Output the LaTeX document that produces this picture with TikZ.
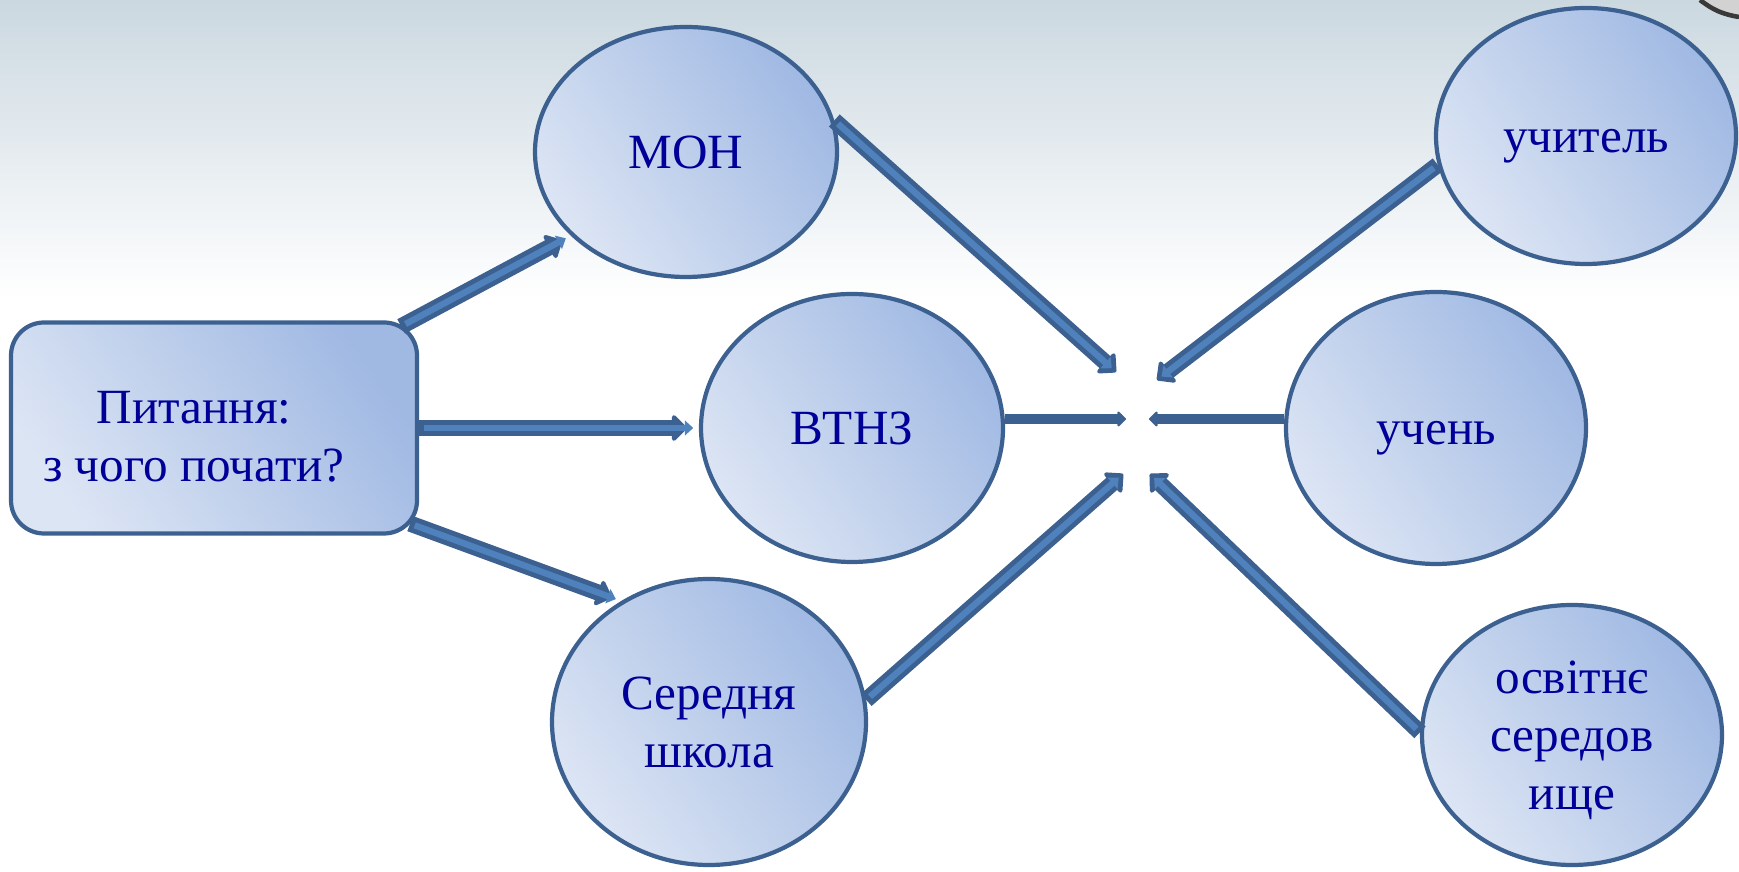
\documentclass[tikz,border=0pt]{standalone}
\usepackage{fontspec}
\setmainfont{Liberation Serif}
\usetikzlibrary{positioning, shapes.geometric, arrows.meta, calc}
\definecolor{shapeedge}{HTML}{3C6190}
\definecolor{shapelight}{HTML}{DCE5F4}
\definecolor{shapedark}{HTML}{A0B9E3}
\definecolor{arrowedge}{HTML}{3C6190}
\definecolor{arrowfill}{HTML}{4F81BD}
\definecolor{labelblue}{HTML}{000099}
\definecolor{bgtop}{HTML}{CBD8E0}
\newcommand{\tstrut}{\rule[-0.22em]{0pt}{1.11em}}
\tikzset{
        actor/.style={
            ellipse, draw=shapeedge, line width=1.2pt, inner sep=0pt,
            top color=shapedark, bottom color=shapelight, shading angle=-55,
            text=labelblue, font=\fontsize{14}{16.5}\selectfont, align=center
        },
        question-box/.style={
            rectangle, rounded corners=3.3mm, draw=shapeedge, line width=1.2pt,
            top color=shapedark, bottom color=shapelight, shading angle=-55,
            minimum width=40.6mm, minimum height=21.1mm
        },
        block-arrow/.style={
            draw=arrowedge, line width=4.6pt, -{Triangle[length=4.5pt, width=8.6pt, round]},
            postaction={draw=arrowfill, line width=1.8pt, shorten <=1.4pt, shorten >=1.6pt,
                        -{Triangle[length=2.4pt, width=4.2pt]}}
        },
        solid-arrow/.style={
            draw=arrowedge, line width=2.6pt, -{Triangle[length=2.6pt, width=5pt, round]}
        },
}
\begin{document}
\begin{tikzpicture}[x=0.1mm, y=-0.1mm]
        \useasboundingbox (0,0) rectangle (1739,872);

        % BACKGROUND
        \fill[top color=bgtop, bottom color=white] (0,0) rectangle (1739,300);
        \fill[gray!35] (1700,0) to[bend right=14] (1739,17) -- (1739,0) -- cycle;
        \draw[line width=1.3pt, gray!45!black] (1700,0) to[bend right=14] (1739,17);

        % DRAW NODES (left side, middle column, right column)
        \node[question-box,
              label={[text=labelblue, font=\fontsize{14}{16.5}\selectfont, align=center,
                      xshift=-2mm, yshift=-0.8mm]center:{\tstrut Питання:\\\tstrut з чого почати?}}]
                                  (question)    at (214,428)  {};
        \node[actor, minimum width=30.2mm, minimum height=25mm]   (mon)         at (686,152)  {\tstrut МОН};
        \node[actor, minimum width=30.2mm, minimum height=26.8mm] (vtnz)        at (852,428)  {\tstrut ВТНЗ};
        \node[actor, minimum width=31.4mm, minimum height=28.6mm] (school)      at (709,722)  {\tstrut Середня\\\tstrut школа};
        \node[actor, minimum width=30mm,   minimum height=25.6mm] (teacher)     at (1586,136) {\tstrut учитель};
        \node[actor, minimum width=30mm,   minimum height=27.2mm] (pupil)       at (1436,428) {\tstrut учень};
        \node[actor, minimum width=30mm,   minimum height=26mm]   (environment) at (1572,735) {\tstrut освітнє\\\tstrut середов\\\tstrut ище};

        % ARROW ENDS IN THE MIDDLE
        \coordinate (hub-nw) at (1116,372);
        \coordinate (hub-w)  at (1126,419);
        \coordinate (hub-sw) at (1123,474);
        \coordinate (hub-ne) at (1157,380);
        \coordinate (hub-e)  at (1149,419);
        \coordinate (hub-se) at (1150,474);

        % CONNECT QUESTION
        \draw[block-arrow, shorten >=1mm]   ([shift={(-18,6)}]question.north east)  -- (mon.216);
        \draw[block-arrow, shorten >=1.2mm] (question.east) -- (vtnz.west);
        \draw[block-arrow, shorten >=1mm]   ([shift={(-9,-12)}]question.south east) -- (school.126);

        % CONNECT TO THE MIDDLE
        \draw[block-arrow] (mon.12)          -- (hub-nw);
        \draw[solid-arrow] (vtnz.east |- hub-w) -- (hub-w);
        \draw[block-arrow] (school.8)        -- (hub-sw);
        \draw[block-arrow] (teacher.191)     -- (hub-ne);
        \draw[solid-arrow] (pupil.west |- hub-e) -- (hub-e);
        \draw[block-arrow] (environment.179) -- (hub-se);

\end{tikzpicture}
\end{document}
